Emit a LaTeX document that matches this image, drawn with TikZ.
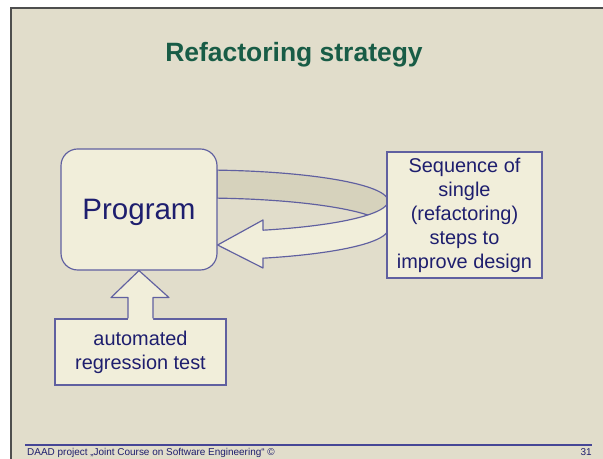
\documentclass[tikz,border=0pt]{standalone}
\usepackage{fontspec}
\setmainfont{Liberation Sans}
\usetikzlibrary{positioning,calc}

\definecolor{slidebg}{RGB}{225,221,203}
\definecolor{boxfill}{RGB}{241,238,218}
\definecolor{bandback}{RGB}{214,210,188}
\definecolor{edge}{RGB}{96,96,160}
\definecolor{navy}{RGB}{30,30,110}
\definecolor{titlegreen}{RGB}{24,92,70}
\definecolor{framegray}{RGB}{78,78,78}

\begin{document}
\begin{tikzpicture}[x=0.03cm,y=-0.03cm,
    box/.style={draw=edge,fill=boxfill,line width=1pt,text=navy,align=center,inner sep=0pt},
    band/.style={draw=edge,line width=1pt,line join=round},
    boxtext/.style={font=\fontsize{17}{20.5}\selectfont}]
  \useasboundingbox (0,0) rectangle (603,459);
  % slide background
  \fill[white] (0,0) rectangle (603,459);
  \fill[slidebg] (11,8) rectangle (603,459);
  \draw[framegray,line width=2.1pt] (11,459) -- (11,8) -- (603,8);

  \node[anchor=base,text=titlegreen,font=\bfseries\fontsize{22.6}{27}\selectfont] (title) at (294,62) {Refactoring strategy};

  % back side of the loop
  \draw[band,fill=bandback] plot[domain=-84.8:0,samples=40] ({200+188*cos(\x)},{201+31*sin(\x)})
    -- plot[domain=0:-84.8,samples=40] ({200+188*cos(\x)},{229+31*sin(\x)}) -- cycle;

  \node[box,rounded corners=0.5cm,minimum width=4.68cm,minimum height=3.63cm,text depth=0pt,
    font=\fontsize{25.2}{30}\selectfont] (prog) at (139,209.5) {Program};
  \node[box,boxtext,minimum width=5.13cm,minimum height=1.98cm] (test) at (140.5,352)
    {automated\\regression test};

  % front side of the loop, back into the program
  \coordinate (tip) at (prog.east |- 0,245);
  \draw[band,fill=boxfill] (263,220) -- (tip) -- (263,268) -- (263,258)
    -- plot[domain=70.4:0,samples=40] ({200+188*cos(\x)},{229+31*sin(\x)})
    -- plot[domain=0:70.4,samples=40] ({200+188*cos(\x)},{201+31*sin(\x)}) -- cycle;
  % steps box lies over the loop
  \node[box,boxtext,minimum width=4.65cm,minimum height=3.78cm] (steps) at (464.5,215)
    {Sequence of\\single\\(refactoring)\\steps to\\improve design};

  % test feeds the program
  \fill[boxfill] ($(test.north)+(-12.5,1.5)$) |- ($(prog.south)+(-28,27)$) -- (prog.south)
    -- ($(prog.south)+(30,27)$) -| ($(test.north)+(12.5,1.5)$) -- cycle;
  \draw[band] ($(test.north)+(-12.5,0)$) |- ($(prog.south)+(-28,27)$) -- (prog.south)
    -- ($(prog.south)+(30,27)$) -| ($(test.north)+(12.5,0)$);

  % footer
  \draw[color={rgb,255:red,70;green,70;blue,150},line width=1.6pt] (25,445) -- (592,445);
  \node[anchor=base west,inner sep=0pt,text=navy,font=\fontsize{8.5}{10}\selectfont] (foot) at (27,456)
    {DAAD project „Joint Course on Software Engineering“ ©};
  \node[anchor=base east,inner sep=0pt,text=navy,font=\fontsize{8.5}{10}\selectfont] (page) at (592,456) {31};
\end{tikzpicture}
\end{document}
